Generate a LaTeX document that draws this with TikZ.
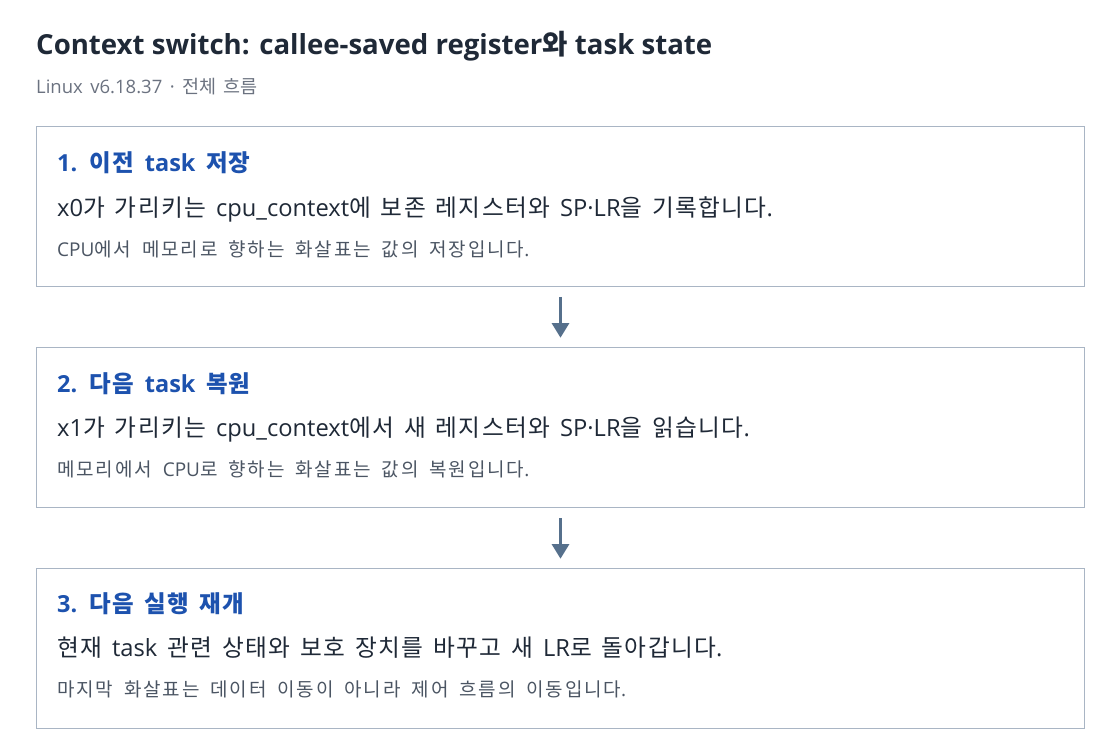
\documentclass[tikz,border=0pt]{standalone}
\usepackage{fontspec}
\setmainfont{Open Sans}
\newfontfamily\latinfamily{Open Sans}
\newfontfamily\hangulfamily{Noto Sans CJK KR}
\newfontfamily\hangulbody{Noto Sans CJK KR}[LetterSpace=5.5]
\newfontfamily\hangulnote{Noto Sans CJK KR}[LetterSpace=9.5]
\newcommand\hangulfont{\hangulfamily}
\newcommand\wordgap[1]{\spaceskip=#1\relax}
% hangul syllables switch to the CJK font
\XeTeXinterchartokenstate=1
\newXeTeXintercharclass\hangulclass
\count255="AC00
\loop\ifnum\count255<"D7A4
  \XeTeXcharclass\count255=\hangulclass
  \advance\count255 by 1
\repeat
\XeTeXinterchartoks 0 \hangulclass = {\hangulfont}
\XeTeXinterchartoks 4095 \hangulclass = {\hangulfont}
\XeTeXinterchartoks \hangulclass 0 = {\latinfamily}
\XeTeXinterchartoks \hangulclass 4095 = {\latinfamily}
\usetikzlibrary{positioning,arrows.meta}
\definecolor{titleink}{HTML}{1F2937}
\definecolor{subink}{HTML}{6B7280}
\definecolor{boxline}{HTML}{A9B5C4}
\definecolor{headink}{HTML}{1D52AE}
\definecolor{bodyink}{HTML}{1F2937}
\definecolor{noteink}{HTML}{4B5563}
\definecolor{arrowink}{HTML}{56708C}
\tikzset{
  stepbox/.style={draw=boxline, line width=1pt, minimum width=1048pt, minimum height=160pt, inner sep=0pt},
  headtext/.style={anchor=base west, inner sep=0pt, text=headink, font={\fontsize{23.5}{28}\selectfont\bfseries\wordgap{10.5pt}\let\hangulfont\hangulbody}},
  bodytext/.style={anchor=base west, inner sep=0pt, text=bodyink, font={\fontsize{23.7}{28}\selectfont\wordgap{10pt}\let\hangulfont\hangulbody}},
  notetext/.style={anchor=base west, inner sep=0pt, text=noteink, font={\fontsize{19}{23}\selectfont\wordgap{11pt}\let\hangulfont\hangulnote}},
  flow/.style={draw=arrowink, line width=2.7pt, -{Triangle[width=17pt,length=14.5pt]}, shorten <=9.7pt, shorten >=9.6pt}
}
\begin{document}
\begin{tikzpicture}[x=1pt,y=-1pt]
  \useasboundingbox[fill=white] (0,0) rectangle (1120,754);
  % title
  \node[anchor=base west, inner sep=0pt, text=titleink, font={\fontsize{27.6}{32}\selectfont\bfseries}] (title) at (36,55) {Context switch: callee-saved register와 task state};
  \node[anchor=base west, inner sep=0pt, text=subink, font={\fontsize{18.5}{22}\selectfont\wordgap{7.5pt}}] (subtitle) at (36,94) {Linux v6.18.37 · 전체 흐름};
  % boxes
  \node[stepbox, anchor=north west] (step1) at (36,126.3) {};
  \node[stepbox, below=60pt of step1] (step2) {};
  \node[stepbox, below=60pt of step2] (step3) {};
  % step 1
  \node[headtext] (head1) at (57,172) {1. 이전 task 저장};
  \node[bodytext] (body1) at (57,216.7) {x0가 가리키는 cpu\_context에 보존 레지스터와 SP·LR을 기록합니다.};
  \node[notetext] (note1) at (57,256.7) {CPU에서 메모리로 향하는 화살표는 값의 저장입니다.};
  % step 2
  \node[headtext] (head2) at (57,392) {2. 다음 task 복원};
  \node[bodytext] (body2) at (57,436.7) {x1가 가리키는 cpu\_context에서 새 레지스터와 SP·LR을 읽습니다.};
  \node[notetext] (note2) at (57,476.7) {메모리에서 CPU로 향하는 화살표는 값의 복원입니다.};
  % step 3
  \node[headtext] (head3) at (57,612) {3. 다음 실행 재개};
  \node[bodytext] (body3) at (57,656.7) {현재 task 관련 상태와 보호 장치를 바꾸고 새 LR로 돌아갑니다.};
  \node[notetext] (note3) at (57,696.7) {마지막 화살표는 데이터 이동이 아니라 제어 흐름의 이동입니다.};
  % arrows
  \draw[flow] (step1.south) -- (step2.north);
  \draw[flow] (step2.south) -- (step3.north);
\end{tikzpicture}
\end{document}
